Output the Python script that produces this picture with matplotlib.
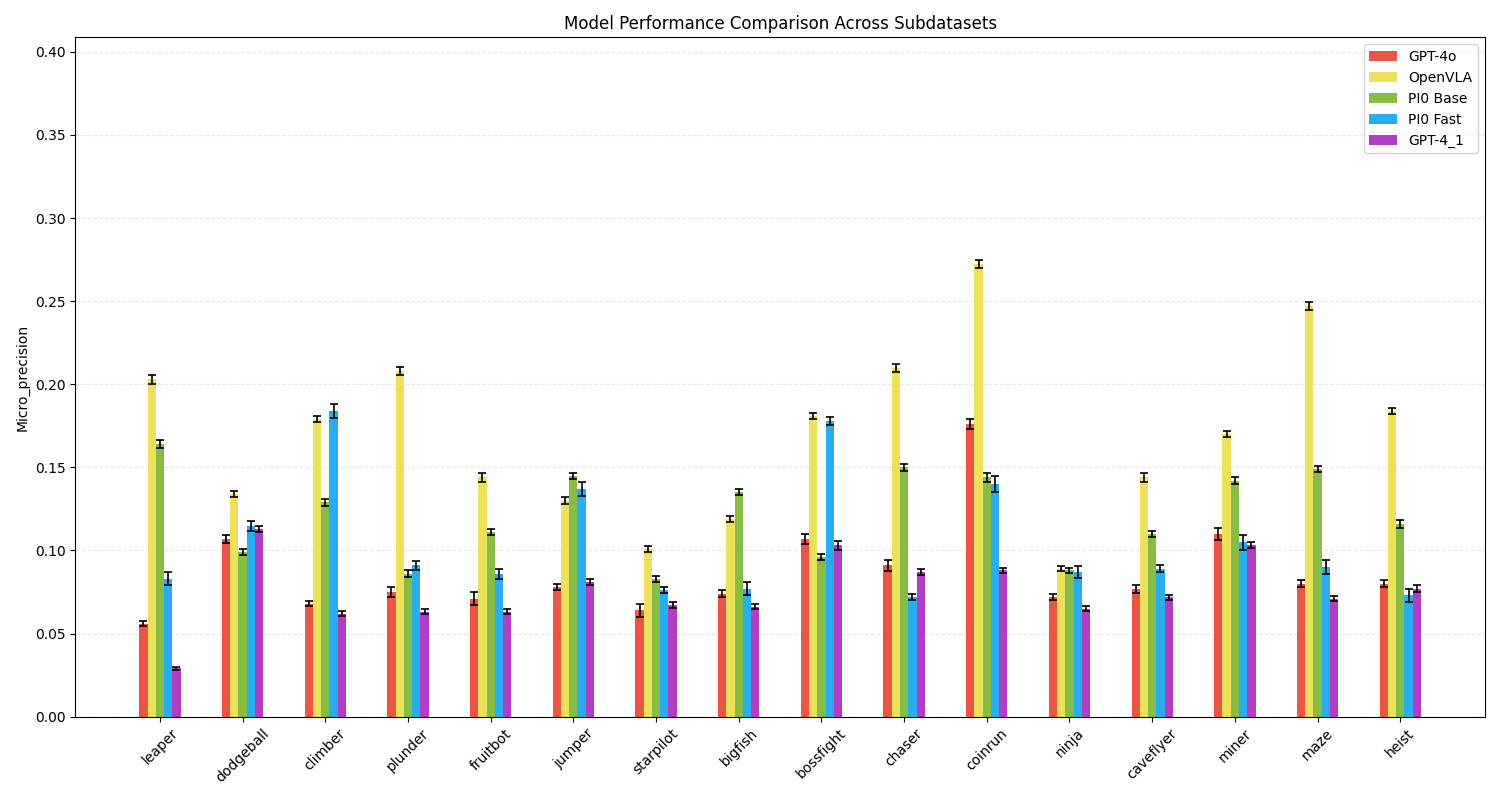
import matplotlib
matplotlib.use("Agg")
import matplotlib.pyplot as plt
import numpy as np

# subdatasets (x axis)
datasets = ["leaper", "dodgeball", "climber", "plunder", "fruitbot", "jumper",
            "starpilot", "bigfish", "bossfight", "chaser", "coinrun", "ninja",
            "caveflyer", "miner", "maze", "heist"]

models = ["GPT-4o", "OpenVLA", "PI0 Base", "PI0 Fast", "GPT-4_1"]
colors = ["#ea5545", "#ede15b", "#87bc45", "#27aeef", "#b33dc6"]

# micro precision per model
gpt4o = [0.056, 0.107, 0.068, 0.075, 0.071, 0.078, 0.064, 0.074,
         0.107, 0.091, 0.176, 0.072, 0.077, 0.110, 0.080, 0.080]
openvla = [0.203, 0.134, 0.179, 0.208, 0.144, 0.130, 0.101, 0.119,
           0.181, 0.210, 0.2725, 0.089, 0.144, 0.170, 0.247, 0.184]
pi0_base = [0.164, 0.099, 0.129, 0.086, 0.111, 0.145, 0.083, 0.135,
            0.096, 0.150, 0.144, 0.088, 0.110, 0.142, 0.149, 0.116]
pi0_fast = [0.083, 0.115, 0.184, 0.091, 0.086, 0.137, 0.076, 0.077,
            0.178, 0.072, 0.140, 0.087, 0.089, 0.105, 0.090, 0.073]
gpt41 = [0.029, 0.113, 0.062, 0.063, 0.063, 0.081, 0.067, 0.066,
         0.103, 0.087, 0.088, 0.065, 0.072, 0.103, 0.071, 0.077]

# error bar half-widths
gpt4o_err = [0.0015, 0.0025, 0.0015, 0.003, 0.004, 0.0018, 0.004, 0.002,
             0.003, 0.0035, 0.003, 0.002, 0.0025, 0.0035, 0.002, 0.002]
openvla_err = [0.0027, 0.0018, 0.0018, 0.0025, 0.0025, 0.002, 0.0018, 0.0018,
               0.002, 0.0025, 0.0025, 0.0015, 0.0025, 0.002, 0.0025, 0.002]
pi0_base_err = [0.0022, 0.0018, 0.002, 0.002, 0.0018, 0.0018, 0.0018, 0.0018,
                0.002, 0.0022, 0.0025, 0.0015, 0.002, 0.002, 0.002, 0.0025]
pi0_fast_err = [0.004, 0.003, 0.004, 0.0025, 0.003, 0.004, 0.0018, 0.004,
                0.0025, 0.002, 0.005, 0.0035, 0.002, 0.0045, 0.004, 0.004]
gpt41_err = [0.001, 0.002, 0.0015, 0.0015, 0.0015, 0.0018, 0.0018, 0.0015,
             0.0025, 0.0018, 0.0015, 0.0015, 0.0015, 0.0018, 0.0015, 0.002]

values = [gpt4o, openvla, pi0_base, pi0_fast, gpt41]
errors = [gpt4o_err, openvla_err, pi0_base_err, pi0_fast_err, gpt41_err]

x = np.arange(len(datasets))
width = 0.1

fig, ax = plt.subplots(figsize=(15, 8), dpi=100)

for i, (name, vals, errs) in enumerate(zip(models, values, errors)):
    ax.bar(x + (i - 2) * width, vals, width, yerr=errs, capsize=3,
           color=colors[i], label=name, ecolor="black",
           error_kw={"elinewidth": 1.2, "capthick": 1.2})

ax.set_title("Model Performance Comparison Across Subdatasets", fontsize=12)
ax.set_ylabel("Micro_precision")
ax.set_xticks(x)
ax.set_xticklabels(datasets, rotation=45)
ax.set_ylim(0, max(openvla) * 1.5)
ax.set_yticks(np.arange(0, 0.41, 0.05))
ax.grid(axis="y", linestyle="--", alpha=0.3)
ax.set_axisbelow(True)
ax.legend(loc="upper right")

plt.tight_layout()
plt.savefig("out.png")
